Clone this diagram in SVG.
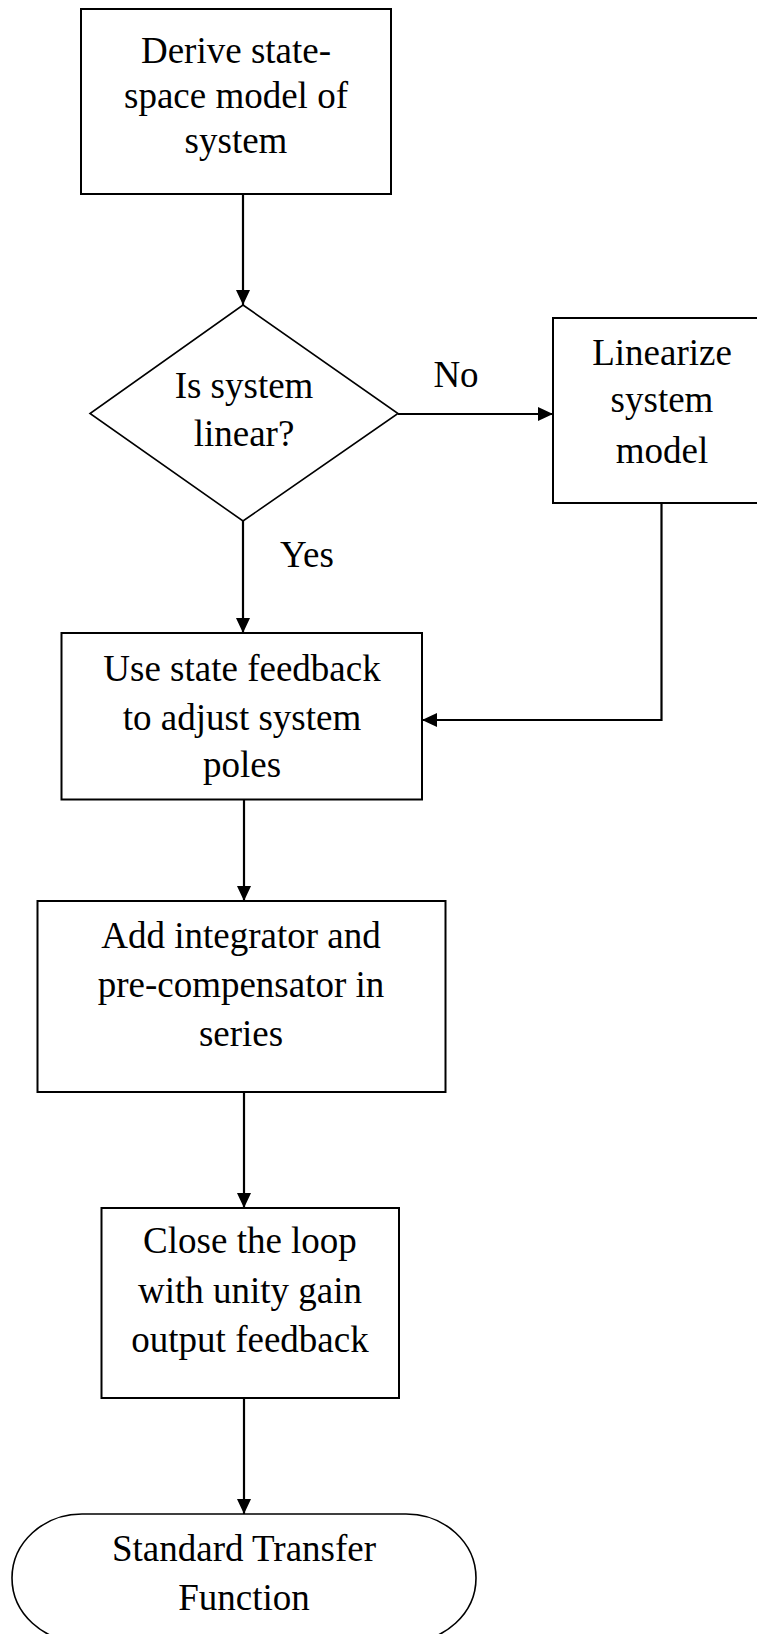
<svg xmlns="http://www.w3.org/2000/svg" width="757" height="1634" viewBox="0 0 757 1634">
  <style>
    .shape { fill: #ffffff; stroke: #000000; stroke-width: 2; }
    .edge { fill: none; stroke: #000000; stroke-width: 2.2; }
    text { font-family: "Liberation Serif", "Times New Roman", serif; font-size: 37px; fill: #000000; text-anchor: middle; }
  </style>
  <defs>
    <marker id="arrow" markerUnits="userSpaceOnUse" markerWidth="16" markerHeight="16" viewBox="0 0 16 16" refX="15" refY="8" orient="auto">
      <path d="M0,1 L15,8 L0,15 Z" fill="#000000"/>
    </marker>
  </defs>
  <rect width="757" height="1634" fill="#ffffff"/>

  <!-- connectors -->
  <g id="connectors">
    <path class="edge" d="M243,194 V305" marker-end="url(#arrow)"/>
    <path class="edge" d="M398,414 H553" marker-end="url(#arrow)"/>
    <path class="edge" d="M243,521 V633" marker-end="url(#arrow)"/>
    <path class="edge" d="M661.5,503 V720 H422" marker-end="url(#arrow)"/>
    <path class="edge" d="M244,800 V901" marker-end="url(#arrow)"/>
    <path class="edge" d="M244,1092 V1208" marker-end="url(#arrow)"/>
    <path class="edge" d="M244,1398 V1514" marker-end="url(#arrow)"/>
    <text x="456" y="387">No</text>
    <text x="307" y="567">Yes</text>
  </g>

  <g id="derive">
    <rect class="shape" x="81" y="9" width="310" height="185"/>
    <text x="236" y="63">Derive state-</text>
    <text x="236" y="108">space model of</text>
    <text x="236" y="153">system</text>
  </g>

  <g id="is-linear">
    <polygon class="shape" points="243,305 398,413.5 243,521 90,413.5" style="stroke-width:1.6"/>
    <text x="244" y="398">Is system</text>
    <text x="244" y="446">linear?</text>
  </g>

  <g id="linearize">
    <rect class="shape" x="553" y="318" width="220" height="185"/>
    <text x="662" y="365">Linearize</text>
    <text x="662" y="412">system</text>
    <text x="662" y="463">model</text>
  </g>

  <g id="state-feedback">
    <rect class="shape" x="61.5" y="633" width="360.5" height="166.5"/>
    <text x="242" y="681">Use state feedback</text>
    <text x="242" y="730">to adjust system</text>
    <text x="242" y="777">poles</text>
  </g>

  <g id="integrator">
    <rect class="shape" x="37.5" y="901" width="408" height="191"/>
    <text x="241" y="948">Add integrator and</text>
    <text x="241" y="997">pre-compensator in</text>
    <text x="241" y="1046">series</text>
  </g>

  <g id="close-loop">
    <rect class="shape" x="101.5" y="1208" width="297.5" height="190"/>
    <text x="250" y="1253">Close the loop</text>
    <text x="250" y="1303">with unity gain</text>
    <text x="250" y="1352">output feedback</text>
  </g>

  <g id="transfer-function">
    <rect class="shape" x="12" y="1514" width="464" height="128" rx="70" ry="64" style="stroke-width:1.6"/>
    <text x="244" y="1561">Standard Transfer</text>
    <text x="244" y="1610">Function</text>
  </g>
</svg>
